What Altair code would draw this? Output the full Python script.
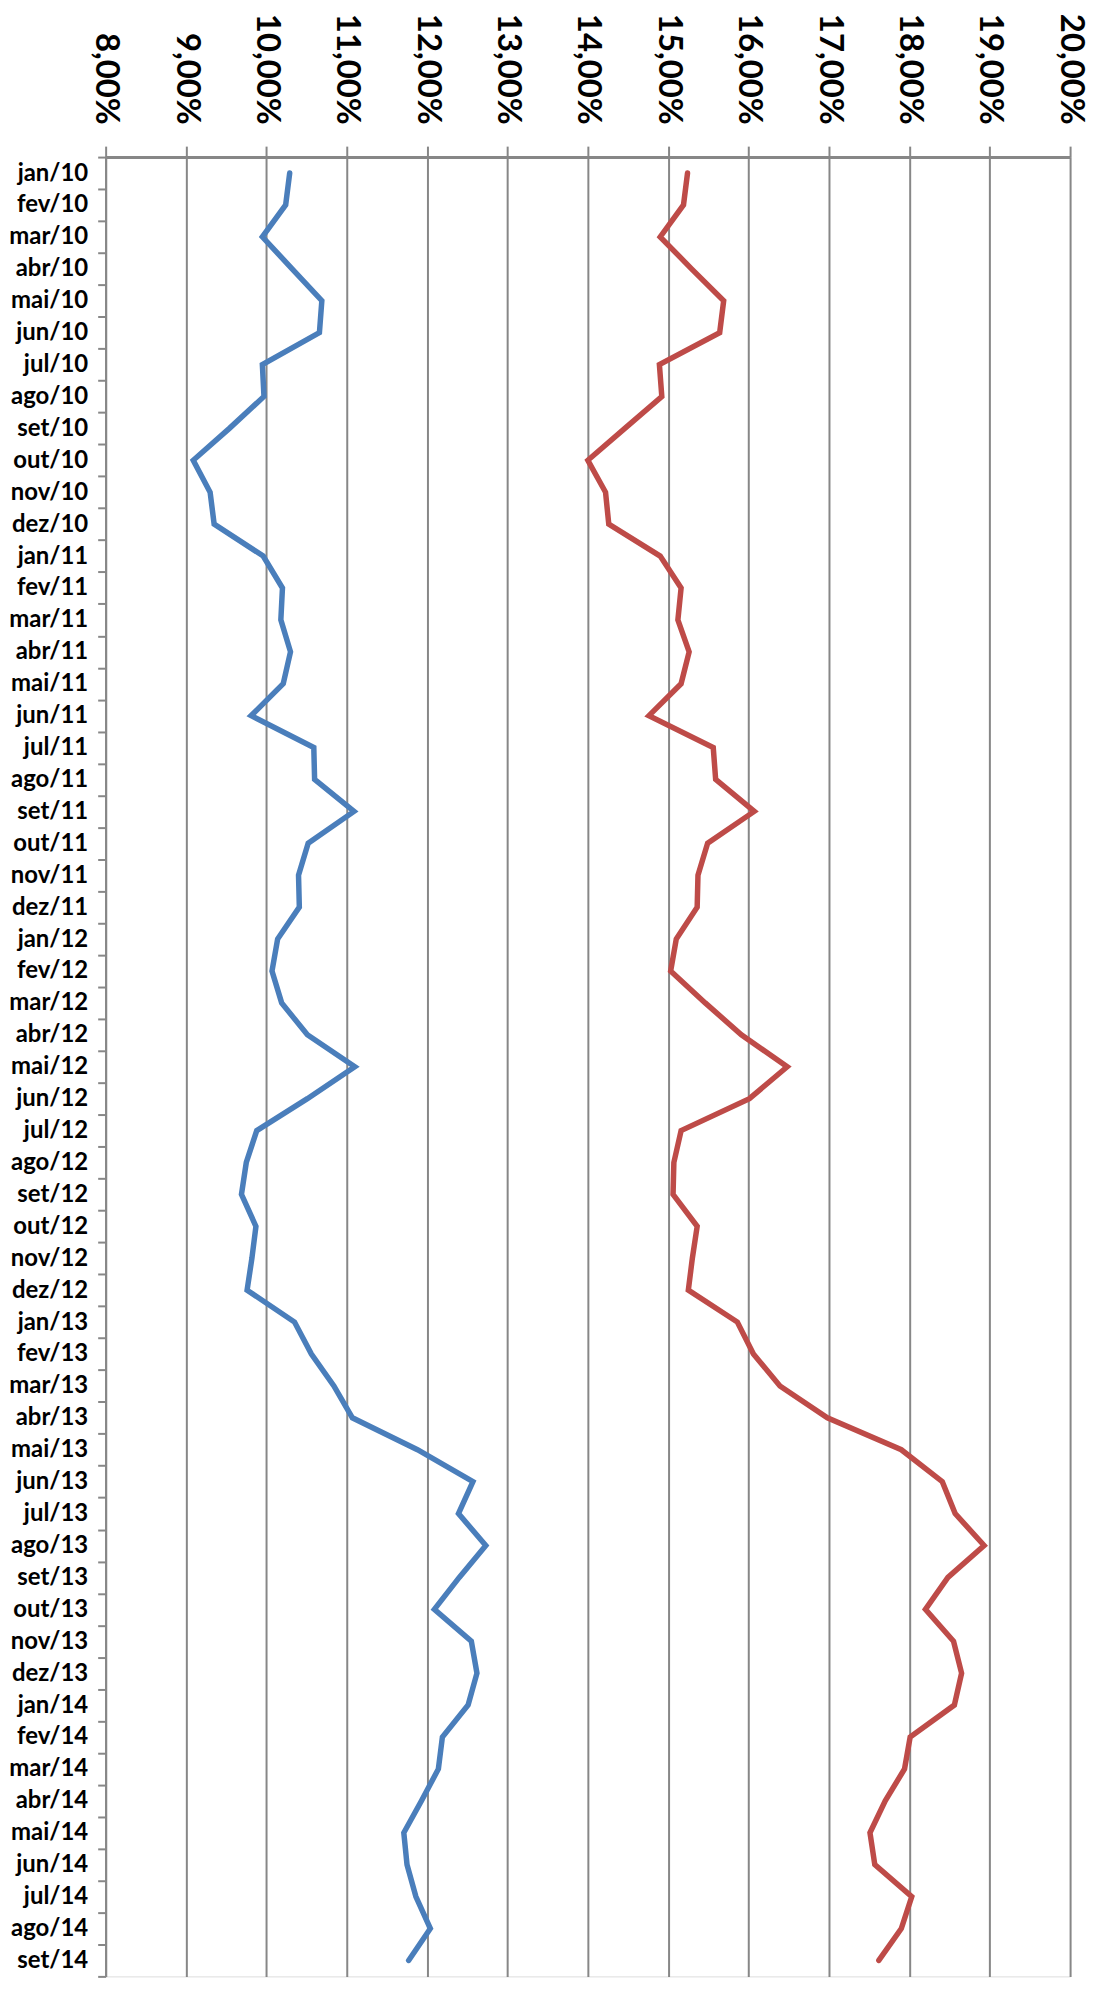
import altair as alt
import pandas as pd

months = [
    "jan/10", "fev/10", "mar/10", "abr/10", "mai/10", "jun/10", "jul/10", "ago/10", "set/10", "out/10", "nov/10", "dez/10",
    "jan/11", "fev/11", "mar/11", "abr/11", "mai/11", "jun/11", "jul/11", "ago/11", "set/11", "out/11", "nov/11", "dez/11",
    "jan/12", "fev/12", "mar/12", "abr/12", "mai/12", "jun/12", "jul/12", "ago/12", "set/12", "out/12", "nov/12", "dez/12",
    "jan/13", "fev/13", "mar/13", "abr/13", "mai/13", "jun/13", "jul/13", "ago/13", "set/13", "out/13", "nov/13", "dez/13",
    "jan/14", "fev/14", "mar/14", "abr/14", "mai/14", "jun/14", "jul/14", "ago/14", "set/14",
]

blue = [
    10.29, 10.24, 9.95, 10.32, 10.69, 10.66, 9.95, 9.97, 9.54, 9.09, 9.30, 9.35,
    9.96, 10.20, 10.18, 10.30, 10.21, 9.81, 10.59, 10.60, 11.09, 10.52, 10.40, 10.41,
    10.14, 10.07, 10.19, 10.51, 11.10, 10.51, 9.88, 9.75, 9.69, 9.87, 9.82, 9.76,
    10.35, 10.56, 10.84, 11.07, 11.88, 12.57, 12.39, 12.73, 12.40, 12.09, 12.55, 12.62,
    12.51, 12.19, 12.14, 11.93, 11.71, 11.75, 11.86, 12.04, 11.77,
]

red = [
    15.24, 15.19, 14.90, 15.29, 15.69, 15.64, 14.89, 14.92, 14.46, 14.00, 14.22, 14.26,
    14.90, 15.16, 15.12, 15.26, 15.16, 14.76, 15.56, 15.59, 16.07, 15.49, 15.37, 15.36,
    15.10, 15.03, 15.46, 15.91, 16.48, 16.01, 15.16, 15.07, 15.06, 15.36, 15.30, 15.25,
    15.86, 16.06, 16.39, 16.98, 17.90, 18.41, 18.57, 18.93, 18.48, 18.20, 18.55, 18.65,
    18.56, 18.01, 17.94, 17.70, 17.51, 17.57, 18.03, 17.90, 17.62,
]

x_ticks = [8, 9, 10, 11, 12, 13, 14, 15, 16, 17, 18, 19, 20]
series_names = ["A", "B"]
series_colors = ["#4A7EBB", "#BE4B48"]

rows = []
for name, vals in zip(series_names, [blue, red]):
    for i, (m, v) in enumerate(zip(months, vals)):
        rows.append({"mes": m, "serie": name, "valor": v, "ordem": i})
df = pd.DataFrame(rows)

GRAY = "#878787"

chart = alt.Chart(df).mark_line(strokeWidth=5.5, strokeCap="round").encode(
    x=alt.X(
        "valor:Q",
        scale=alt.Scale(domain=[8, 20], nice=False, zero=False),
        axis=alt.Axis(
            orient="top",
            values=x_ticks,
            labelExpr="replace(format(datum.value, '.2f'), '.', ',') + '%'",
            labelAngle=90,
            labelAlign="right",
            labelBaseline="middle",
            labelFont="Lato",
            labelFontWeight="bold",
            labelFontSize=33,
            labelColor="#000000",
            labelPadding=22,
            tickSize=11,
            tickWidth=2,
            tickColor=GRAY,
            domainColor=GRAY,
            domainWidth=3,
            grid=True,
            gridColor=GRAY,
            gridWidth=2,
            title=None,
        ),
    ),
    y=alt.Y(
        "mes:N",
        sort=months,
        bandPosition=0.5,
        scale=alt.Scale(type="band", paddingInner=0, paddingOuter=0),
        axis=alt.Axis(
            orient="left",
            tickBand="extent",
            labelFont="Lato",
            labelFontWeight="bold",
            labelFontSize=24,
            labelColor="#000000",
            labelPadding=10,
            tickSize=8,
            tickWidth=2,
            tickColor=GRAY,
            domainColor=GRAY,
            domainWidth=2,
            grid=False,
            title=None,
        ),
    ),
    color=alt.Color(
        "serie:N",
        scale=alt.Scale(domain=series_names, range=series_colors),
        legend=None,
    ),
    order="ordem:Q",
).properties(
    width=968,
    height=1826,
    autosize=alt.AutoSizeParams(type="none"),
    padding={"left": 98, "top": 146, "right": 25, "bottom": 2},
).configure_view(strokeWidth=0).configure(background="#ffffff")

chart.save("out.html", embed_options={"renderer": "svg", "actions": False})
